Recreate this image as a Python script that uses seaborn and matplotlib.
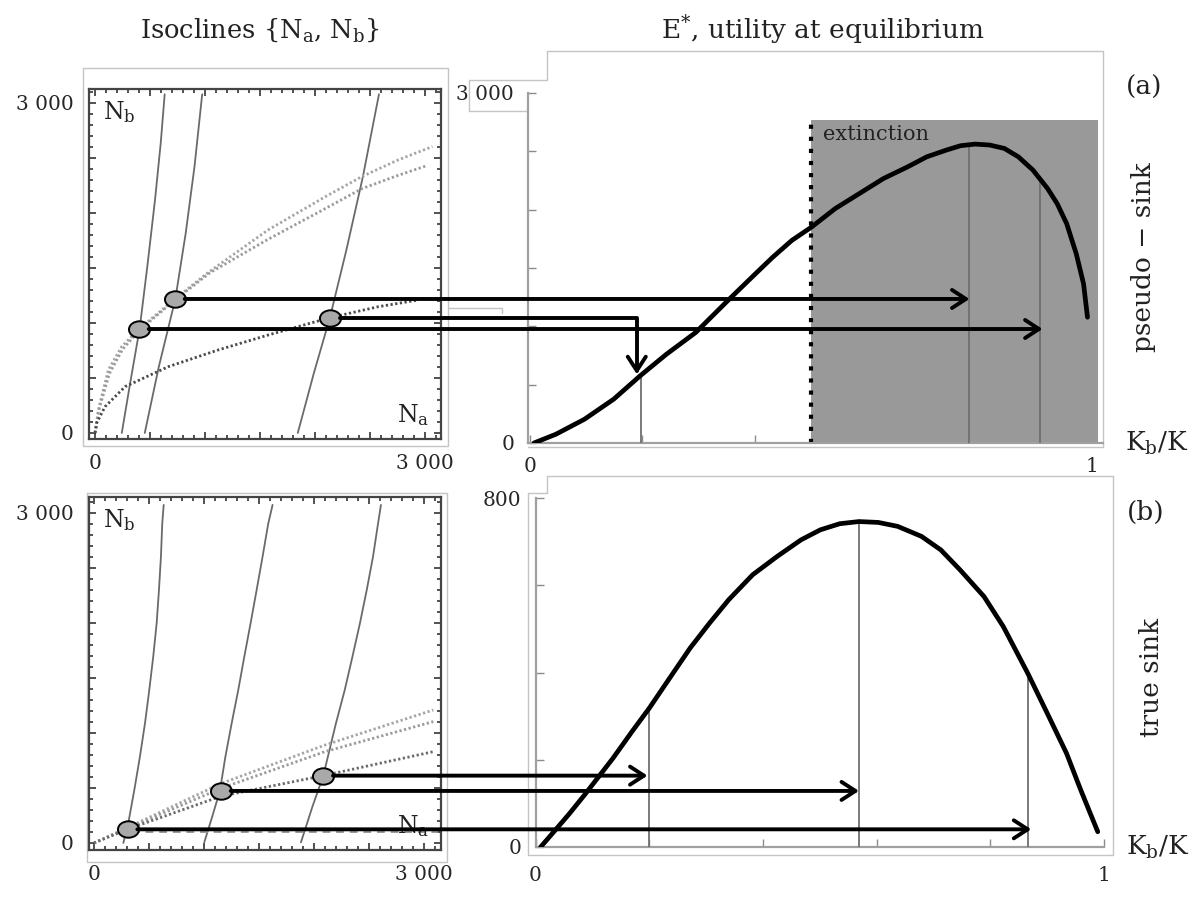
import matplotlib
matplotlib.use("Agg")
import numpy as np
import matplotlib.pyplot as plt
import seaborn as sns
from matplotlib.patches import ConnectionPatch
from matplotlib.lines import Line2D
from matplotlib.path import Path
from matplotlib.transforms import Affine2D, blended_transform_factory
from matplotlib.ticker import MultipleLocator

# ---------------------------------------------------------------- data
# (a) pseudo-sink : isoclines in the (Na, Nb) plane
a_iso1_na = [243, 319, 406, 475, 545, 597, 633]
a_iso1_nb = [0, 452, 952, 1512, 2118, 2634, 3079]
a_iso2_na = [452, 580, 730, 824, 904, 974]
a_iso2_nb = [0, 603, 1218, 1815, 2421, 3079]
a_iso3_na = [1843, 1989, 2135, 2285, 2435, 2581]
a_iso3_nb = [0, 543, 1048, 1664, 2330, 3079]
a_dot1_na = [0, 30, 121, 242, 400, 727, 1030, 1572, 2094, 2424, 2755, 3067]
a_dot1_nb = [0, 209, 573, 785, 945, 1218, 1460, 1845, 2148, 2330, 2482, 2603]
a_dot2_na = [0, 35, 130, 250, 400, 727, 1050, 1572, 2038, 2424, 2750, 3016]
a_dot2_nb = [0, 210, 540, 760, 930, 1210, 1460, 1760, 2010, 2220, 2340, 2430]
a_dot3_na = [0, 15, 91, 273, 667, 1121, 1576, 2136, 2576, 2939]
a_dot3_nb = [0, 91, 239, 421, 603, 755, 891, 1048, 1148, 1209]
a_eq_na = [400, 727, 2136]
a_eq_nb = [945, 1218, 1048]

# (a) E*, utility at equilibrium vs Kb/K
a_kb = [0.007, 0.046, 0.097, 0.149, 0.196, 0.243, 0.295, 0.355, 0.398,
        0.432, 0.466, 0.501, 0.543, 0.586, 0.629, 0.672, 0.706, 0.741,
        0.766, 0.792, 0.818, 0.844, 0.869, 0.895, 0.921, 0.938, 0.955,
        0.972, 0.985, 0.992]
a_util = [0, 75, 204, 376, 576, 762, 948, 1235, 1436,
          1593, 1737, 1851, 2009, 2138, 2267, 2367, 2453, 2511,
          2548, 2562, 2554, 2525, 2453, 2339, 2181, 2052, 1880,
          1622, 1364, 1078]
a_eq_kb = [0.198, 0.782, 0.908]
a_eq_util = [590, 2562, 2250]
a_arrow_kb = [0.912, 0.782, 0.190]     # targets of arrows from equilibria 1, 2, 3
a_ext_start, a_ext_end, a_ext_top = 0.50, 1.011, 2769

# (b) true sink : isoclines in the (Na, Nb) plane
b_iso1_na = [267, 312, 367, 418, 464, 503, 539, 570, 591, 609, 621, 634]
b_iso1_nb = [0, 179, 482, 785, 1088, 1391, 1694, 1997, 2300, 2603, 2906, 3073]
b_iso2_na = [1003, 1075, 1145, 1195, 1252, 1312, 1367, 1424, 1479, 1533, 1585, 1624]
b_iso2_nb = [6, 239, 473, 785, 1088, 1391, 1694, 1997, 2300, 2603, 2906, 3073]
b_iso3_na = [1882, 1985, 2085, 2200, 2280, 2350, 2418, 2480, 2537, 2583, 2609]
b_iso3_nb = [6, 327, 612, 1088, 1391, 1694, 1997, 2300, 2603, 2906, 3073]
b_dot1_na = [0, 306, 1155, 2100, 3085]
b_dot1_nb = [0, 140, 540, 890, 1209]
b_dot2_na = [0, 306, 1155, 2100, 3085]
b_dot2_nb = [0, 132, 497, 830, 1103]
b_dot3_na = [0, 306, 1155, 2085, 3085]
b_dot3_nb = [0, 125, 425, 612, 830]
b_dash_na = [342, 3130]
b_dash_nb = [103, 103]
b_eq_na = [306, 1155, 2085]
b_eq_nb = [124, 473, 612]

# (b) E*, utility at equilibrium vs Kb/K
b_kb = [0.009, 0.035, 0.060, 0.086, 0.111, 0.136, 0.170, 0.200, 0.238,
        0.272, 0.306, 0.340, 0.382, 0.425, 0.467, 0.501, 0.535, 0.569,
        0.603, 0.637, 0.679, 0.713, 0.747, 0.789, 0.823, 0.866, 0.900,
        0.934, 0.959, 0.989]
b_util = [0, 39, 77, 119, 161, 203, 265, 318, 391,
          456, 513, 567, 624, 666, 704, 727, 741, 746,
          744, 735, 712, 681, 635, 574, 505, 398, 307,
          215, 131, 35]
b_eq_kb = [0.200, 0.569, 0.866]
b_eq_util = [318, 746, 398]
b_arrow_kb = [0.872, 0.569, 0.197]

# ---------------------------------------------------------------- style
sns.set_style("white")
plt.rcParams["font.family"] = ["DejaVu Serif"]
plt.rcParams["mathtext.fontset"] = "dejavuserif"
plt.rcParams["text.color"] = "#222222"

W, H = 1196, 900
fig = plt.figure(figsize=(W / 100, H / 100), dpi=100)


def box(l, t, r, b):
    # axes rectangle from pixel edges
    return [l / W, 1 - b / H, (r - l) / W, (b - t) / H]


def deco(points):
    xs = [p[0] / W for p in points]
    ys = [1 - p[1] / H for p in points]
    fig.add_artist(Line2D(xs, ys, color="#c4c4c4", lw=1.0,
                          transform=fig.transFigure, zorder=0))


ax_la = fig.add_axes(box(89, 89, 441, 439))
ax_ra = fig.add_axes(box(528, 93, 1103, 443))
ax_lb = fig.add_axes(box(89, 497, 441, 850))
ax_rb = fig.add_axes(box(535.5, 498, 1104, 847))
for ax in (ax_la, ax_ra, ax_lb, ax_rb):
    ax.set_facecolor("none")

# outer grey frames of the original panels
deco([(83, 68), (448, 68), (448, 446), (83, 446), (83, 68)])
deco([(87, 493), (447, 493), (447, 862), (87, 862), (87, 493)])
deco([(527, 111), (469, 111), (469, 80), (547, 80), (547, 51),
      (1103, 51), (1103, 447), (528, 447)])
deco([(448, 308), (502, 308), (502, 313)])
deco([(547, 493), (547, 476), (1113, 476), (1113, 855), (528, 855),
      (528, 493), (547, 493)])

ellipse = Path.unit_circle().transformed(Affine2D().scale(1.0, 0.78))


def isocline_panel(ax, isos, dots, dot_colors, eq_na, eq_nb, xlim, ylim):
    for na, nb in isos:
        sns.lineplot(x=na, y=nb, sort=False, estimator=None, ax=ax,
                     color="#6a6a6a", lw=1.3)
    for (na, nb), c in zip(dots, dot_colors):
        sns.lineplot(x=na, y=nb, sort=False, estimator=None, ax=ax,
                     color=c, lw=2.0, linestyle=(0, (0.8, 0.9)))
    sns.scatterplot(x=eq_na, y=eq_nb, ax=ax, marker=ellipse, s=230,
                    color="#a9a9a9", edgecolor="black", linewidth=1.4,
                    zorder=5)
    ax.set_xlim(*xlim)
    ax.set_ylim(*ylim)
    ticks = list(range(0, 3001, 500))
    labels = ["0", "", "", "", "", "", "3 000"]
    ax.set_xticks(ticks)
    ax.set_xticklabels(labels)
    ax.set_yticks(ticks)
    ax.set_yticklabels(labels)
    ax.xaxis.set_minor_locator(MultipleLocator(100))
    ax.yaxis.set_minor_locator(MultipleLocator(100))
    ax.tick_params(which="both", direction="in", top=True, right=True,
                   bottom=True, left=True, color="#333333", width=1.2)
    ax.tick_params(which="major", length=5, labelsize=14.5, pad=11)
    ax.tick_params(which="minor", length=3)
    for sp in ax.spines.values():
        sp.set_visible(True)
        sp.set_color("#444444")
        sp.set_linewidth(1.6)
    ax.set_xlabel("")
    ax.set_ylabel("")
    ax.text(0.04, 0.935, r"N$_\mathregular{b}$", transform=ax.transAxes,
            fontsize=17, va="center", ha="left")
    ax.text(0.968, 0.068, r"N$_\mathregular{a}$", transform=ax.transAxes,
            fontsize=17, va="center", ha="right")


def utility_panel(ax, kb, util, vx, vtop, xlim, ylim, ystep, ytop_label, xpad):
    sns.lineplot(x=kb, y=util, sort=False, estimator=None, ax=ax,
                 color="black", lw=3.4, zorder=4)
    ax.vlines(vx, 0, vtop, color="#707070", lw=1.3, zorder=3)
    ax.set_xlim(*xlim)
    ax.set_ylim(*ylim)
    ax.set_xticks([0, 0.2, 0.4, 0.6, 0.8, 1.0])
    ax.set_xticklabels(["0", "", "", "", "", "1"])
    yt = list(range(0, ylim[1] + 1, ystep))
    ax.set_yticks(yt)
    ax.set_yticklabels(["0"] + [""] * (len(yt) - 2) + [ytop_label])
    ax.tick_params(direction="in", length=6, width=1.0, color="#8a8a8a",
                   labelsize=14.5, bottom=True, left=True)
    ax.tick_params(axis="y", pad=10)
    ax.tick_params(axis="x", pad=xpad)
    sns.despine(ax=ax)
    for side in ("left", "bottom"):
        ax.spines[side].set_color("#a0a0a0")
        ax.spines[side].set_linewidth(1.6)
    ax.set_xlabel("")
    ax.set_ylabel("")
    ax.text(1.038, 0.0, r"K$_\mathregular{b}$/K", transform=ax.transAxes,
            fontsize=19, va="center", ha="left")


# ---------------------------------------------------------------- (a)
isocline_panel(ax_la,
               [(a_iso1_na, a_iso1_nb), (a_iso2_na, a_iso2_nb), (a_iso3_na, a_iso3_nb)],
               [(a_dot1_na, a_dot1_nb), (a_dot2_na, a_dot2_nb), (a_dot3_na, a_dot3_nb)],
               ["#a5a5a5", "#9a9a9a", "#4a4a4a"],
               a_eq_na, a_eq_nb, (-55, 3145), (-55, 3127))

ax_ra.fill_between([a_ext_start, a_ext_end], 0, a_ext_top, color="#999999",
                   lw=0, zorder=1)
ax_ra.vlines(a_ext_start, 0, a_ext_top, color="black", lw=3.0,
             linestyles=[(0, (1.0, 1.9))], zorder=2)
ax_ra.text(a_ext_start + 0.022, a_ext_top - 40, "extinction", fontsize=15,
           va="top", ha="left")
utility_panel(ax_ra, a_kb, a_util, a_eq_kb, a_eq_util, (-0.0036, 1.0196),
              (0, 3000), 500, "3 000", 10)
ax_ra.text(1.071, 1.017, "(a)", transform=ax_ra.transAxes, fontsize=19,
           ha="center", va="center")
ax_ra.text(1.071, 0.53, "pseudo − sink", transform=ax_ra.transAxes,
           fontsize=19, rotation=90, ha="center", va="center")

# ---------------------------------------------------------------- (b)
isocline_panel(ax_lb,
               [(b_iso1_na, b_iso1_nb), (b_iso2_na, b_iso2_nb), (b_iso3_na, b_iso3_nb)],
               [(b_dot1_na, b_dot1_nb), (b_dot2_na, b_dot2_nb), (b_dot3_na, b_dot3_nb)],
               ["#a5a5a5", "#9a9a9a", "#6a6a6a"],
               b_eq_na, b_eq_nb, (-45, 3155), (-64, 3145))
sns.lineplot(x=b_dash_na, y=b_dash_nb, ax=ax_lb, color="#9a9a9a", lw=1.4,
             linestyle=(0, (4, 3)), zorder=2)

utility_panel(ax_rb, b_kb, b_util, b_eq_kb, b_eq_util, (0, 1.0),
              (0, 800), 200, "800", 14)
ax_rb.text(1.074, 0.96, "(b)", transform=ax_rb.transAxes, fontsize=19,
           ha="center", va="center")
ax_rb.text(1.083, 0.487, "true sink", transform=ax_rb.transAxes,
           fontsize=19, rotation=90, ha="center", va="center")

# ---------------------------------------------------------------- arrows
head = "->,head_length=1.0,head_width=0.65"


def arrows(ax_l, ax_r, eq_na, eq_nb, targets, elbow=None):
    mixed = blended_transform_factory(ax_r.transData, ax_l.transData)
    for i, (na, nb, tx) in enumerate(zip(eq_na, eq_nb, targets)):
        if elbow is not None and i == elbow[0]:
            con = ConnectionPatch(xyA=(na, nb), coordsA=ax_l.transData,
                                  xyB=(tx, elbow[1]), coordsB=ax_r.transData,
                                  connectionstyle="angle,angleA=0,angleB=90,rad=0",
                                  arrowstyle=head, lw=2.8, color="black",
                                  shrinkA=7, shrinkB=0, zorder=6)
        else:
            con = ConnectionPatch(xyA=(na, nb), coordsA=ax_l.transData,
                                  xyB=(tx, nb), coordsB=mixed,
                                  arrowstyle=head, lw=2.8, color="black",
                                  shrinkA=7, shrinkB=0, zorder=6)
        fig.add_artist(con)


arrows(ax_la, ax_ra, a_eq_na, a_eq_nb, a_arrow_kb, elbow=(2, a_eq_util[0]))
arrows(ax_lb, ax_rb, b_eq_na, b_eq_nb, b_arrow_kb)

# ---------------------------------------------------------------- titles
fig.text(260 / W, 1 - 30 / H, r"Isoclines {N$_\mathregular{a}$, N$_\mathregular{b}$}",
         fontsize=18.5, ha="center", va="center")
fig.text(823 / W, 1 - 30 / H, r"E$^{*}$, utility at equilibrium",
         fontsize=19, ha="center", va="center")

fig.savefig("out.png", dpi=100, facecolor="white")
